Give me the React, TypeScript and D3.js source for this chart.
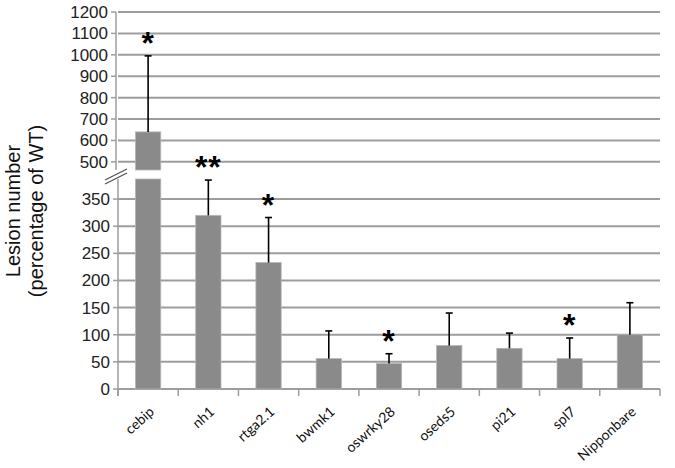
import React from "react";
import * as d3 from "d3";

// data
const categories = ["cebip", "nh1", "rtga2.1", "bwmk1", "oswrky28", "oseds5", "pi21", "spl7", "Nipponbare"];
const means = [640, 320, 233, 56, 47, 80, 75, 56, 100];
const errTops = [995, 385, 316, 107, 65, 140, 103, 94, 159];
const stars = ["*", "**", "*", "", "*", "", "", "*", ""];
const lowTicks = [0, 50, 100, 150, 200, 250, 300, 350];
const highTicks = [500, 600, 700, 800, 900, 1000, 1100, 1200];

const W = 675;
const H = 468;
const left = 118;
const right = 660;
const base = 389;

// broken axis: two linear scales
const yLow = d3.scaleLinear().domain([0, 387]).range([base, 179]);
const yHigh = d3.scaleLinear().domain([462, 1200]).range([170, 12]);
const y = (v: number) => (v <= 387 ? yLow(v) : yHigh(v));

const x = d3.scaleBand().domain(categories).range([left, right]).paddingInner(0.58).paddingOuter(0.29);

const gridColor = "#9d9d9d";
const barColor = "#8a8a8a";
const font = "Liberation Sans, Arial, sans-serif";

export default function App() {
  const bw = x.bandwidth();
  const step = x.step();
  return (
    <svg width={W} height={H} style={{ position: "absolute", left: 0, top: 0, background: "#fff" }}>
      {/* gridlines */}
      {lowTicks.slice(1).map((t) => (
        <line key={"gl" + t} x1={left} x2={right} y1={yLow(t)} y2={yLow(t)} stroke={gridColor} strokeWidth={2} />
      ))}
      {highTicks.map((t) => (
        <line key={"gh" + t} x1={left} x2={right} y1={yHigh(t)} y2={yHigh(t)} stroke={gridColor} strokeWidth={2} />
      ))}
      {/* y axis lines */}
      <line x1={left - 2} x2={left - 2} y1={yHigh(1200)} y2={yHigh(462)} stroke={gridColor} strokeWidth={1.5} />
      <line x1={left} x2={left} y1={yLow(387)} y2={base + 7} stroke={gridColor} strokeWidth={1.5} />
      {/* y tick marks + labels */}
      {lowTicks.map((t) => (
        <g key={"tl" + t}>
          <line x1={left - 5} x2={left} y1={yLow(t)} y2={yLow(t)} stroke={gridColor} strokeWidth={1.5} />
          <text x={left - 8} y={yLow(t)} dy="0.35em" textAnchor="end" fontFamily={font} fontSize={17} fill="#222">
            {t}
          </text>
        </g>
      ))}
      {highTicks.map((t) => (
        <g key={"th" + t}>
          <line x1={left - 7} x2={left - 2} y1={yHigh(t)} y2={yHigh(t)} stroke={gridColor} strokeWidth={1.5} />
          <text x={left - 10} y={yHigh(t)} dy="0.35em" textAnchor="end" fontFamily={font} fontSize={17} fill="#222">
            {t}
          </text>
        </g>
      ))}
      {/* break marks */}
      <line x1={105} y1={180} x2={127} y2={169} stroke="#555" strokeWidth={1.3} />
      <line x1={105} y1={184} x2={127} y2={173} stroke="#555" strokeWidth={1.3} />
      {/* x axis */}
      <line x1={left} x2={right} y1={base} y2={base} stroke={gridColor} strokeWidth={2} />
      {d3.range(categories.length + 1).map((i) => (
        <line key={"xt" + i} x1={left + i * step} x2={left + i * step} y1={base} y2={base + 7} stroke={gridColor} strokeWidth={1.5} />
      ))}
      {/* bars */}
      {categories.map((c, i) => {
        const x0 = x(c) as number;
        const v = means[i];
        if (v > 387) {
          return (
            <g key={"b" + c}>
              <rect x={x0} y={yLow(387)} width={bw} height={base - yLow(387)} fill={barColor} stroke="#b5b5b5" strokeWidth={0.8} />
              <rect x={x0} y={yHigh(v)} width={bw} height={yHigh(462) - yHigh(v)} fill={barColor} stroke="#b5b5b5" strokeWidth={0.8} />
            </g>
          );
        }
        return <rect key={"b" + c} x={x0} y={yLow(v)} width={bw} height={base - yLow(v)} fill={barColor} stroke="#b5b5b5" strokeWidth={0.8} />;
      })}
      {/* error bars */}
      {categories.map((c, i) => {
        const cx = (x(c) as number) + bw / 2;
        const top = y(errTops[i]);
        return (
          <g key={"e" + c} stroke="#000" strokeWidth={1.6}>
            <line x1={cx} x2={cx} y1={y(means[i])} y2={top} />
            <line x1={cx - 3.5} x2={cx + 3.5} y1={top} y2={top} />
          </g>
        );
      })}
      {/* significance stars */}
      {categories.map((c, i) =>
        stars[i] ? (
          <text key={"s" + c} x={(x(c) as number) + bw / 2} y={y(errTops[i]) - 2} textAnchor="middle" fontFamily={font} fontWeight="bold" fontSize={32} fill="#000" letterSpacing={1}>
            {stars[i]}
          </text>
        ) : null
      )}
      {/* x labels */}
      {categories.map((c) => {
        const cx = (x(c) as number) + bw / 2 + 7;
        return (
          <text key={"xl" + c} transform={`translate(${cx},${base + 24}) rotate(-42)`} textAnchor="end" fontFamily="Lato, Open Sans, sans-serif" fontSize={14} fill="#111">
            {c}
          </text>
        );
      })}
      {/* y title */}
      <text transform="translate(20,211) rotate(-90)" textAnchor="middle" fontFamily={font} fontSize={20} fill="#111">
        Lesion number
      </text>
      <text transform="translate(43,211) rotate(-90)" textAnchor="middle" fontFamily={font} fontSize={20} fill="#111">
        (percentage of WT)
      </text>
    </svg>
  );
}
